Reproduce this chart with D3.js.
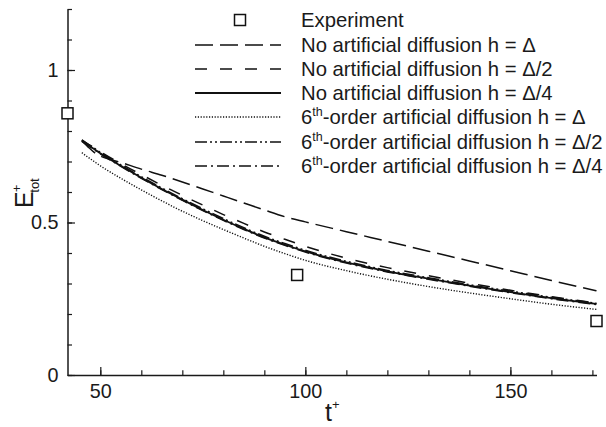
<!DOCTYPE html>
<html>
<head>
<meta charset="utf-8">
<script src="https://cdn.jsdelivr.net/npm/d3@7"></script>
<style>
  html, body { margin: 0; padding: 0; background: #fff; }
  svg { display: block; font-family: "Liberation Sans", Arial, Helvetica, sans-serif; }
  .axis path, .axis line { stroke: #1a1a1a; }
  .axis text { font-size: 19.8px; fill: #1a1a1a; font-family: "Liberation Sans", Arial, sans-serif; }
</style>
</head>
<body>
<svg id="chart" width="606" height="427"></svg>
<script>
// ---------------- data ----------------
const tSim = [45.5, 47, 48.5, 50, 55, 60, 65, 70, 75, 80, 85, 90, 95, 100, 110, 120, 130, 140, 150, 160, 171];
const noDiffH1 = [0.768, 0.748, 0.730, 0.718, 0.697, 0.675, 0.655, 0.633, 0.610, 0.587, 0.564, 0.541, 0.519, 0.502, 0.470, 0.438, 0.406, 0.374, 0.342, 0.310, 0.276];
const noDiffH2 = [0.770, 0.757, 0.745, 0.732, 0.693, 0.657, 0.622, 0.589, 0.557, 0.526, 0.497, 0.469, 0.445, 0.422, 0.383, 0.352, 0.326, 0.301, 0.278, 0.257, 0.236];
const noDiffH4 = [0.768, 0.754, 0.741, 0.727, 0.686, 0.647, 0.610, 0.575, 0.541, 0.509, 0.479, 0.451, 0.427, 0.405, 0.369, 0.340, 0.316, 0.293, 0.272, 0.252, 0.233];
const sixthH1  = [0.729, 0.714, 0.700, 0.686, 0.645, 0.607, 0.571, 0.537, 0.506, 0.477, 0.449, 0.422, 0.398, 0.376, 0.342, 0.314, 0.290, 0.269, 0.250, 0.232, 0.215];
const sixthH2  = [0.771, 0.757, 0.744, 0.730, 0.689, 0.650, 0.613, 0.578, 0.545, 0.513, 0.483, 0.455, 0.431, 0.409, 0.373, 0.343, 0.319, 0.296, 0.275, 0.255, 0.235];
const sixthH4  = [0.766, 0.752, 0.739, 0.725, 0.684, 0.645, 0.608, 0.573, 0.539, 0.507, 0.477, 0.449, 0.425, 0.403, 0.367, 0.338, 0.314, 0.291, 0.270, 0.250, 0.231];
const expT = [42, 98, 171];
const expE = [0.858, 0.328, 0.177];

const xMajorTicks = [50, 100, 150];
const xMinorTicks = [50, 60, 70, 80, 90, 100, 110, 120, 130, 140, 150, 160, 170];
const yMajorTicks = [0, 0.5, 1];
const yMinorTicks = [0, 0.1, 0.2, 0.3, 0.4, 0.5, 0.6, 0.7, 0.8, 0.9, 1.0, 1.1, 1.2];

const seriesNames = [
  {main: "No artificial diffusion h = \u0394", sup: null},
  {main: "No artificial diffusion h = \u0394/2", sup: null},
  {main: "No artificial diffusion h = \u0394/4", sup: null},
  {pre: "6", sup: "th", main: "-order artificial diffusion h = \u0394"},
  {pre: "6", sup: "th", main: "-order artificial diffusion h = \u0394/2"},
  {pre: "6", sup: "th", main: "-order artificial diffusion h = \u0394/4"}
];
const seriesValues = [noDiffH1, noDiffH2, noDiffH4, sixthH1, sixthH2, sixthH4];
const seriesDash = ["18,7", "12,13", null, "1.2,1.6", "12,3,2,3,2,3", "12,4,2,4"];
const seriesWidth = [1.5, 1.5, 1.8, 1.4, 1.5, 1.5];

// ---------------- scales ----------------
const svg = d3.select("#chart");
const x = d3.scaleLinear().domain([42, 171]).range([67.5, 596.5]);
const y = d3.scaleLinear().domain([0, 1.2]).range([375, 9]);

// ---------------- axes ----------------
const fmt = d => d3.format("")(d);
const yMinor = svg.append("g").attr("class", "axis").attr("transform", `translate(${x.range()[0]},0)`)
  .call(d3.axisLeft(y).tickValues(yMinorTicks).tickSizeInner(-4.5).tickSizeOuter(0).tickFormat(""));
yMinor.select(".domain").attr("stroke-width", 1.5);
yMinor.selectAll(".tick line").attr("stroke-width", 1.2);
const yMajor = svg.append("g").attr("class", "axis").attr("transform", `translate(${x.range()[0]},0)`)
  .call(d3.axisLeft(y).tickValues(yMajorTicks).tickSizeInner(-7.5).tickSizeOuter(0).tickPadding(9).tickFormat(fmt));
yMajor.select(".domain").remove();
yMajor.selectAll(".tick line").attr("stroke-width", 1.2);

const xMinor = svg.append("g").attr("class", "axis").attr("transform", `translate(0,${y.range()[0]})`)
  .call(d3.axisBottom(x).tickValues(xMinorTicks).tickSizeInner(-4.7).tickSizeOuter(0).tickFormat(""));
xMinor.select(".domain").attr("stroke-width", 1.5);
xMinor.selectAll(".tick line").attr("stroke-width", 1.2);
const xMajor = svg.append("g").attr("class", "axis").attr("transform", `translate(0,${y.range()[0]})`)
  .call(d3.axisBottom(x).tickValues(xMajorTicks).tickSizeInner(-8).tickSizeOuter(0).tickPadding(9).tickFormat(fmt));
xMajor.select(".domain").remove();
xMajor.selectAll(".tick line").attr("stroke-width", 1.2);

// axis titles
const xt = svg.append("text").attr("x", 325).attr("y", 421).attr("font-size", 25).attr("fill", "#1a1a1a");
xt.append("tspan").text("t");
xt.append("tspan").attr("font-size", 13).attr("dy", -12).text("+");

const yt = svg.append("text").attr("transform", "translate(33,208) rotate(-90)").attr("font-size", 25).attr("fill", "#1a1a1a");
yt.append("tspan").text("E");
yt.append("tspan").attr("font-size", 13).attr("dx", -1).attr("dy", -12).text("+");
yt.append("tspan").attr("font-size", 13).attr("dx", -8).attr("dy", 18).text("tot");

// ---------------- lines ----------------
const line = d3.line().x(d => x(d[0])).y(d => y(d[1])).curve(d3.curveMonotoneX);
seriesValues.forEach((vals, i) => {
  svg.append("path")
    .datum(tSim.map((t, j) => [t, vals[j]]))
    .attr("d", line)
    .attr("fill", "none")
    .attr("stroke", "#111")
    .attr("stroke-width", seriesWidth[i])
    .attr("stroke-dasharray", seriesDash[i]);
});

// experiment squares
svg.selectAll("rect.exp").data(expT.map((t, i) => [t, expE[i]])).enter()
  .append("rect").attr("class", "exp")
  .attr("x", d => x(d[0]) - 5.5).attr("y", d => y(d[1]) - 5.5)
  .attr("width", 11).attr("height", 11)
  .attr("fill", "#fff").attr("stroke", "#111").attr("stroke-width", 1.5);

// ---------------- legend ----------------
const legRowY = [20, 45, 69, 93, 117, 142, 166];
const legX0 = 195, legX1 = 281, legTextX = 301;
const leg = svg.append("g").attr("font-size", 20.3).attr("fill", "#1a1a1a");
leg.append("rect").attr("x", 240 - 5.5).attr("y", legRowY[0] - 5.5).attr("width", 11).attr("height", 11)
  .attr("fill", "#fff").attr("stroke", "#111").attr("stroke-width", 1.5);
leg.append("text").attr("x", legTextX).attr("y", legRowY[0] + 7).text("Experiment");
seriesNames.forEach((s, i) => {
  const ry = legRowY[i + 1];
  leg.append("line").attr("x1", legX0).attr("x2", legX1).attr("y1", ry).attr("y2", ry)
    .attr("stroke", "#111").attr("stroke-width", seriesWidth[i]).attr("stroke-dasharray", seriesDash[i]);
  const tx = leg.append("text").attr("x", legTextX).attr("y", ry + 7);
  if (s.pre) {
    tx.append("tspan").text(s.pre);
    tx.append("tspan").attr("font-size", 12.5).attr("dy", -8).text(s.sup);
    tx.append("tspan").attr("dy", 8).text(s.main);
  } else {
    tx.append("tspan").text(s.main);
  }
});
</script>
</body>
</html>
